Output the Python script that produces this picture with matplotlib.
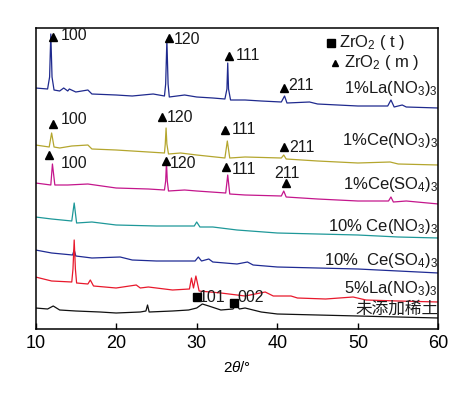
import numpy as np
import matplotlib
matplotlib.use('Agg')
from matplotlib import pyplot as plt

plt.rcParams['font.family'] = ['Liberation Sans', 'DejaVu Sans']
plt.rcParams['mathtext.fontset'] = 'custom'
plt.rcParams['mathtext.rm'] = 'Liberation Sans'
plt.rcParams['mathtext.it'] = 'Liberation Sans:italic'

# XRD traces: 2theta (deg) and offset intensity (a.u.)
la1_x = [10, 11.5, 11.75, 11.9, 12.05, 12.3, 13, 13.5, 14, 14.2, 15, 16.5, 17, 20, 22, 24.6, 26,
         26.15, 26.3, 26.45, 26.6, 28.5, 30, 32, 33.5, 33.75, 33.85, 33.95, 34.2, 36, 38, 40.5,
         40.9, 41.2, 44, 45, 50, 53.7, 54.1, 54.5, 55.5, 56, 60]
la1_y = [241, 240, 252, 295, 252, 239, 238, 241, 238, 240, 237, 239, 235, 234, 233, 235, 233,
         245, 289, 245, 232, 234, 232, 231, 230, 240, 266, 240, 229, 229, 228, 227,
         233, 226, 227, 225, 223, 223, 229, 222, 224, 222, 221]

ce1_x = [10, 11.7, 12.0, 12.3, 13, 14.5, 16.5, 17, 20, 24, 26, 26.1, 26.2, 26.3, 26.5, 28, 30,
         33.5, 33.8, 34.1, 36, 40.5, 40.8, 41.1, 45, 50, 54, 55, 60]
ce1_y = [184, 182, 196, 182, 181, 183, 184, 180, 179, 177, 176, 185, 201, 185, 175, 176, 174,
         171, 188, 171, 172, 171, 174, 170, 168, 166, 167, 165, 164]

ces1_x = [10, 11.9, 12.1, 12.4, 14, 16.5, 20, 24, 26.0, 26.15, 26.25, 26.35, 26.5, 28.5, 30,
          33.6, 33.85, 34.1, 36, 40.5, 40.8, 41.1, 45, 50, 53.8, 54.1, 54.4, 56, 60]
ces1_y = [146, 144, 165, 144, 144, 145, 141, 140, 139, 148, 167, 148, 138, 139, 138,
          136, 154, 135, 134, 133, 138, 132, 130, 128, 128, 132, 127, 128, 125]

ce10_x = [10, 12, 14.5, 14.8, 15.1, 17, 20, 25, 29.7, 30, 30.4, 32, 35, 40, 45, 50, 55, 60]
ce10_y = [112, 110, 108, 126, 106, 107, 104, 103, 103, 107, 102, 102, 99, 96, 95, 94, 92, 91]

ces10_x = [10, 12, 14.6, 14.8, 15.0, 17, 20.5, 22, 25, 29.8, 30.2, 30.6, 31.5, 32, 35, 36.3, 37,
           40, 45, 50, 55, 60]
ces10_y = [79, 76, 74, 79, 73, 71, 72, 69, 68, 68, 72, 68, 70, 67, 65, 67, 64,
           62, 61, 60, 58, 56]

la5_x = [10, 12, 14.5, 14.65, 14.8, 14.95, 15.1, 16.5, 16.8, 17.2, 20, 22.5, 23, 24, 27, 29.1,
         29.35, 29.6, 29.9, 30.3, 33, 36, 38.5, 39.5, 41.7, 42.5, 46, 49.4, 51, 55, 60]
la5_y = [52, 48, 47, 60, 89, 60, 46, 45, 49, 43, 41, 44, 41, 42, 39, 40,
         51, 41, 53, 38, 36, 33, 37, 33, 33, 31, 30, 32, 29, 28, 27]

none_x = [10, 11.5, 12.2, 13, 15, 18, 20, 23, 23.7, 23.9, 24.1, 27, 29, 30, 30.7, 31.5, 33,
          34.5, 34.9, 35.3, 36, 38, 40, 45, 50, 55, 60]
none_y = [21, 20, 23, 19, 18, 17, 16, 17, 18, 24, 17, 18, 19, 21, 25, 23, 19,
          20, 24, 20, 21, 17, 15, 14, 13, 12, 11]

traces = [(la1_x, la1_y, '#1f2a8e'), (ce1_x, ce1_y, '#b4a62e'), (ces1_x, ces1_y, '#c4168c'),
          (ce10_x, ce10_y, '#1e9899'), (ces10_x, ces10_y, '#1f2b94'), (la5_x, la5_y, '#e8192c'),
          (none_x, none_y, '#111111')]

labels = [r'1%La(NO$_3$)$_3$', r'1%Ce(NO$_3$)$_3$', r'1%Ce(SO$_4$)$_3$', r'10% Ce(NO$_3$)$_3$',
          r'10%  Ce(SO$_4$)$_3$', r'5%La(NO$_3$)$_3$', '未添加稀土']
label_y = [241, 189, 144, 102, 69, 40, 20]

fig = plt.figure(figsize=(4.77, 3.93), dpi=100)
ax = fig.add_axes([35.5/477, 64/393, 403/477, 301/393])

for (x, y, c) in traces:
    ax.plot(x, y, color=c, lw=0.9)

for lab, ly in zip(labels, label_y):
    fam = ['Noto Sans CJK SC', 'DejaVu Sans'] if lab == '未添加稀土' else None
    ax.text(59.95, ly, lab, ha='right', va='center', fontsize=12, family=fam, color='#1a1a1a')

# peak markers
def tri(x, y):
    ax.plot(x, y, marker='^', color='k', ms=6, ls='none')

def hkl(x, y, s):
    ax.text(x, y, s, ha='left', va='center', fontsize=11.5, color='#1a1a1a')

tri(12.2, 292); hkl(13.1, 294, '100')
tri(26.58, 291); hkl(27.2, 289, '120')
tri(34.0, 273); hkl(34.85, 274, '111')
tri(40.83, 241); hkl(41.4, 244, '211')

tri(12.2, 205); hkl(13.1, 209, '100')
tri(25.64, 212); hkl(26.3, 212, '120')
tri(33.52, 199); hkl(34.4, 200, '111')
tri(40.79, 182); hkl(41.45, 182, '211')

tri(11.7, 174); hkl(13.1, 165, '100')
tri(26.13, 168); hkl(26.6, 166, '120')
tri(33.69, 162); hkl(34.4, 160, '111')
tri(41.13, 146); ax.text(41.2, 156, '211', ha='center', va='center', fontsize=11.5, color='#1a1a1a')

ax.plot(29.98, 32, marker='s', color='k', ms=5.5, ls='none')
ax.plot(34.63, 26, marker='s', color='k', ms=5.5, ls='none')
hkl(30.3, 32, '101')
hkl(35.0, 32, '002')

# phase legend
ax.plot(46.7, 286, marker='s', color='k', ms=5.5, ls='none')
ax.text(47.7, 286, r'ZrO$_2$ ( t )', ha='left', va='center', fontsize=12, color='#1a1a1a')
ax.plot(47.1, 266, marker='^', color='k', ms=5, ls='none')
ax.text(48.3, 266, r'ZrO$_2$ ( m )', ha='left', va='center', fontsize=12, color='#1a1a1a')

ax.set_xlim(10, 60)
ax.set_ylim(0, 301)
ax.set_xticks([10, 20, 30, 40, 50, 60])
ax.set_yticks([])
ax.tick_params(axis='x', direction='in', length=4, width=1, labelsize=13, pad=4)
for s in ax.spines.values():
    s.set_linewidth(1.1)
ax.set_xlabel(r'$2\theta$/°', fontsize=11, labelpad=6)

plt.savefig('out.png', dpi=100)
